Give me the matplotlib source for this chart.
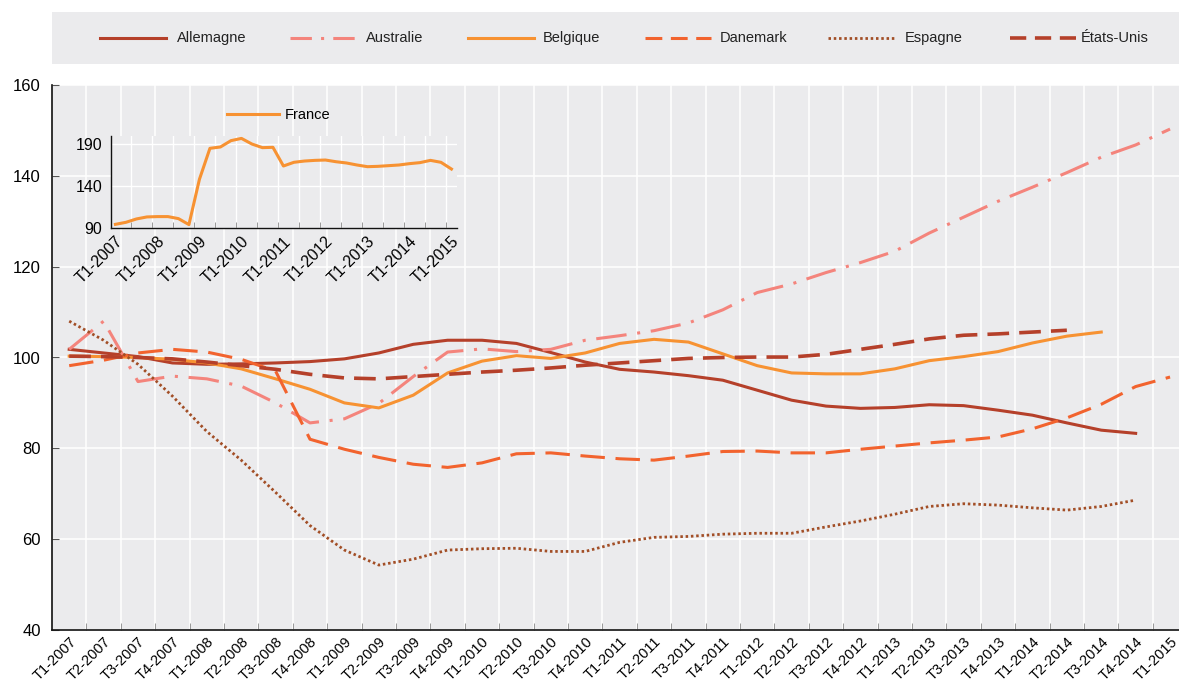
import matplotlib
matplotlib.use('Agg')
import matplotlib.pyplot as plt
import numpy as np
from matplotlib.patches import Rectangle
from matplotlib.lines import Line2D

plt.rcParams['font.family'] = ['Liberation Sans', 'DejaVu Sans']

quarters = ["T1-2007", "T2-2007", "T3-2007", "T4-2007",
            "T1-2008", "T2-2008", "T3-2008", "T4-2008",
            "T1-2009", "T2-2009", "T3-2009", "T4-2009",
            "T1-2010", "T2-2010", "T3-2010", "T4-2010",
            "T1-2011", "T2-2011", "T3-2011", "T4-2011",
            "T1-2012", "T2-2012", "T3-2012", "T4-2012",
            "T1-2013", "T2-2013", "T3-2013", "T4-2013",
            "T1-2014", "T2-2014", "T3-2014", "T4-2014",
            "T1-2015"]

allemagne = [101.8, 101.0, 100.2, 98.8, 98.5, 98.6, 98.8, 99.1, 99.7, 101.0, 102.9, 103.8,
             103.8, 103.1, 101.1, 99.0, 97.4, 96.8, 96.0, 95.0, 92.8, 90.6, 89.3, 88.8,
             89.0, 89.6, 89.4, 88.4, 87.3, 85.6, 84.0, 83.3]
australie = [101.8, 108.0, 94.7, 95.9, 95.3, 93.7, 90.0, 85.6, 86.5, 89.9, 95.8, 101.2,
             101.9, 101.3, 101.8, 103.8, 104.8, 105.9, 107.6, 110.5, 114.3, 116.2, 118.7, 120.9,
             123.4, 127.4, 130.9, 134.4, 137.5, 140.7, 144.1, 146.8, 150.3]
belgique = [100.3, 100.2, 100.0, 99.6, 98.8, 97.5, 95.3, 93.0, 90.0, 88.9, 91.7, 96.6,
            99.2, 100.4, 99.8, 101.0, 103.1, 104.0, 103.4, 100.8, 98.2, 96.6, 96.4, 96.4,
            97.5, 99.3, 100.2, 101.3, 103.2, 104.7, 105.6]
danemark = [98.2, 99.4, 101.0, 101.8, 101.2, 99.6, 97.0, 82.0, 79.8, 78.0, 76.5, 75.8,
            76.8, 78.8, 79.0, 78.3, 77.7, 77.4, 78.3, 79.3, 79.4, 79.0, 79.0, 79.8,
            80.5, 81.2, 81.8, 82.5, 84.3, 86.7, 89.7, 93.6, 95.7]
espagne = [108.0, 103.8, 98.5, 91.5, 83.7, 77.4, 70.3, 63.0, 57.6, 54.3, 55.6, 57.6,
           57.9, 58.0, 57.3, 57.3, 59.3, 60.4, 60.6, 61.1, 61.3, 61.3, 62.7, 64.0,
           65.5, 67.2, 67.8, 67.5, 66.9, 66.4, 67.2, 68.6]
etats_unis = [100.3, 100.2, 100.0, 99.7, 99.0, 98.2, 97.4, 96.3, 95.5, 95.3, 95.8, 96.3,
              96.8, 97.2, 97.7, 98.3, 98.8, 99.3, 99.8, 100.0, 100.1, 100.1, 100.7, 101.8,
              102.9, 104.1, 104.9, 105.2, 105.6, 106.0]
france = [94.7, 97.1, 101.1, 103.5, 103.9, 103.9, 101.5, 94.4, 148.2, 185.0, 186.6, 194.1,
          196.8, 190.1, 185.8, 186.2, 164.0, 168.4, 169.9, 170.7, 171.1, 169.1, 167.6, 165.2,
          163.2, 163.6, 164.4, 165.2, 166.8, 168.0, 170.7, 168.4, 160.4]

series_names = ['Allemagne', 'Australie', 'Belgique', 'Danemark', 'Espagne', 'États-Unis']
inset_ticks = [0, 4, 8, 12, 16, 20, 24, 28, 32]

BG = '#EBEBED'
C_DARK = '#B5402A'
C_PINK = '#F4847C'
C_ORANGE = '#F79232'
C_RED = '#F2632E'
C_BROWN = '#A24E26'

W, H = 1179, 686
fig = plt.figure(figsize=(W / 100, H / 100), dpi=100)

ax = fig.add_axes([52 / W, 1 - 630 / H, 1 - 52 / W, (630 - 85) / H])
ax.set_facecolor(BG)
ax.set_xlim(-0.5, 32.26)
ax.set_ylim(40, 160)
ax.set_yticks([40, 60, 80, 100, 120, 140, 160])
ax.set_xticks(range(len(quarters)))
ax.set_xticklabels(quarters, rotation=45, ha='right', va='top', rotation_mode='anchor')
ax.set_xticks(np.arange(len(quarters) - 1) + 0.5, minor=True)
ax.tick_params(axis='x', which='major', length=0, pad=3, labelsize=10.5)
ax.tick_params(axis='x', which='minor', direction='in', length=5, color='#888888')
ax.tick_params(axis='y', direction='in', length=5, color='#555555', labelsize=12, pad=8)
ax.grid(which='minor', axis='x', color='white', lw=1.1)
ax.grid(which='major', axis='y', color='white', lw=1.1)
ax.set_axisbelow(True)
for s in ['top', 'right']:
    ax.spines[s].set_visible(False)
for s in ['left', 'bottom']:
    ax.spines[s].set_color('#111111')
    ax.spines[s].set_linewidth(1.2)

styles = [
    dict(color=C_DARK, lw=2.2, linestyle='-'),
    dict(color=C_PINK, lw=2.2, linestyle=(0, (10, 3.5, 1, 3.5))),
    dict(color=C_ORANGE, lw=2.2, linestyle='-'),
    dict(color=C_RED, lw=2.2, linestyle=(0, (8, 3.5))),
    dict(color=C_BROWN, lw=2.0, linestyle=(0, (0.9, 1.0))),
    dict(color=C_DARK, lw=2.6, linestyle=(0, (6, 2.8))),
]
legend_styles = [
    dict(color=C_DARK, lw=2.2, linestyle='-'),
    dict(color=C_PINK, lw=2.2, linestyle=(0, (7, 3, 1, 3))),
    dict(color=C_ORANGE, lw=2.2, linestyle='-'),
    dict(color=C_RED, lw=2.2, linestyle=(0, (5.5, 2.8))),
    dict(color=C_BROWN, lw=2.0, linestyle=(0, (0.9, 1.0))),
    dict(color=C_DARK, lw=2.6, linestyle=(0, (4.5, 2.4))),
]
data = [allemagne, australie, belgique, danemark, espagne, etats_unis]
x = np.arange(len(quarters))
for vals, st, name in zip(data, styles, series_names):
    ax.plot(x[:len(vals)], vals, label=name, **st)

# legend box (manual layout to match reference)
fig.patches.append(Rectangle((52 / W, 1 - 64 / H), 1127 / W, 52 / H,
                             transform=fig.transFigure, facecolor=BG, edgecolor='none', zorder=0))
handle_x = [100, 290, 468, 645, 828, 1010]
text_x = [177, 366, 543, 720, 905, 1081]
ly = 1 - 38 / H
for hx, tx, st, name in zip(handle_x, text_x, legend_styles, series_names):
    fig.add_artist(Line2D([hx / W, (hx + 66) / W], [ly, ly], transform=fig.transFigure, **st))
    fig.text(tx / W, ly, name, ha='left', va='center', fontsize=10.5, color='#222222')

# inset
axi = fig.add_axes([110.7 / W, 1 - 228.3 / H, 346 / W, 92.6 / H])
axi.set_facecolor(BG)
axi.set_xlim(-0.45, 32.5)
axi.set_ylim(90, 200)
axi.set_yticks([90, 140, 190])
axi.set_xticks(inset_ticks)
axi.set_xticklabels([quarters[i] for i in inset_ticks], rotation=45, ha='right', va='top',
                    rotation_mode='anchor')
axi.set_xticks(np.arange(1.5, 32, 2), minor=True)
axi.tick_params(axis='x', which='major', length=0, pad=4, labelsize=11.5)
axi.tick_params(axis='x', which='minor', direction='in', length=4, color='#888888')
axi.tick_params(axis='y', direction='in', length=0, labelsize=11.5, pad=6)
axi.grid(which='minor', axis='x', color='white', lw=1.0)
axi.grid(which='major', axis='y', color='white', lw=1.0)
axi.set_axisbelow(True)
for s in ['top', 'right']:
    axi.spines[s].set_visible(False)
for s in ['left', 'bottom']:
    axi.spines[s].set_color('#111111')
    axi.spines[s].set_linewidth(1.0)
hf, = axi.plot(np.arange(len(france)), france, color=C_ORANGE, lw=2.2, label='France')
axi.legend([hf], ['France'], loc='center', bbox_to_anchor=(0.485, 1.224), frameon=False,
           handlelength=3.6, handletextpad=0.4, fontsize=10.5)

fig.savefig('out.png', dpi=100, facecolor='white')
